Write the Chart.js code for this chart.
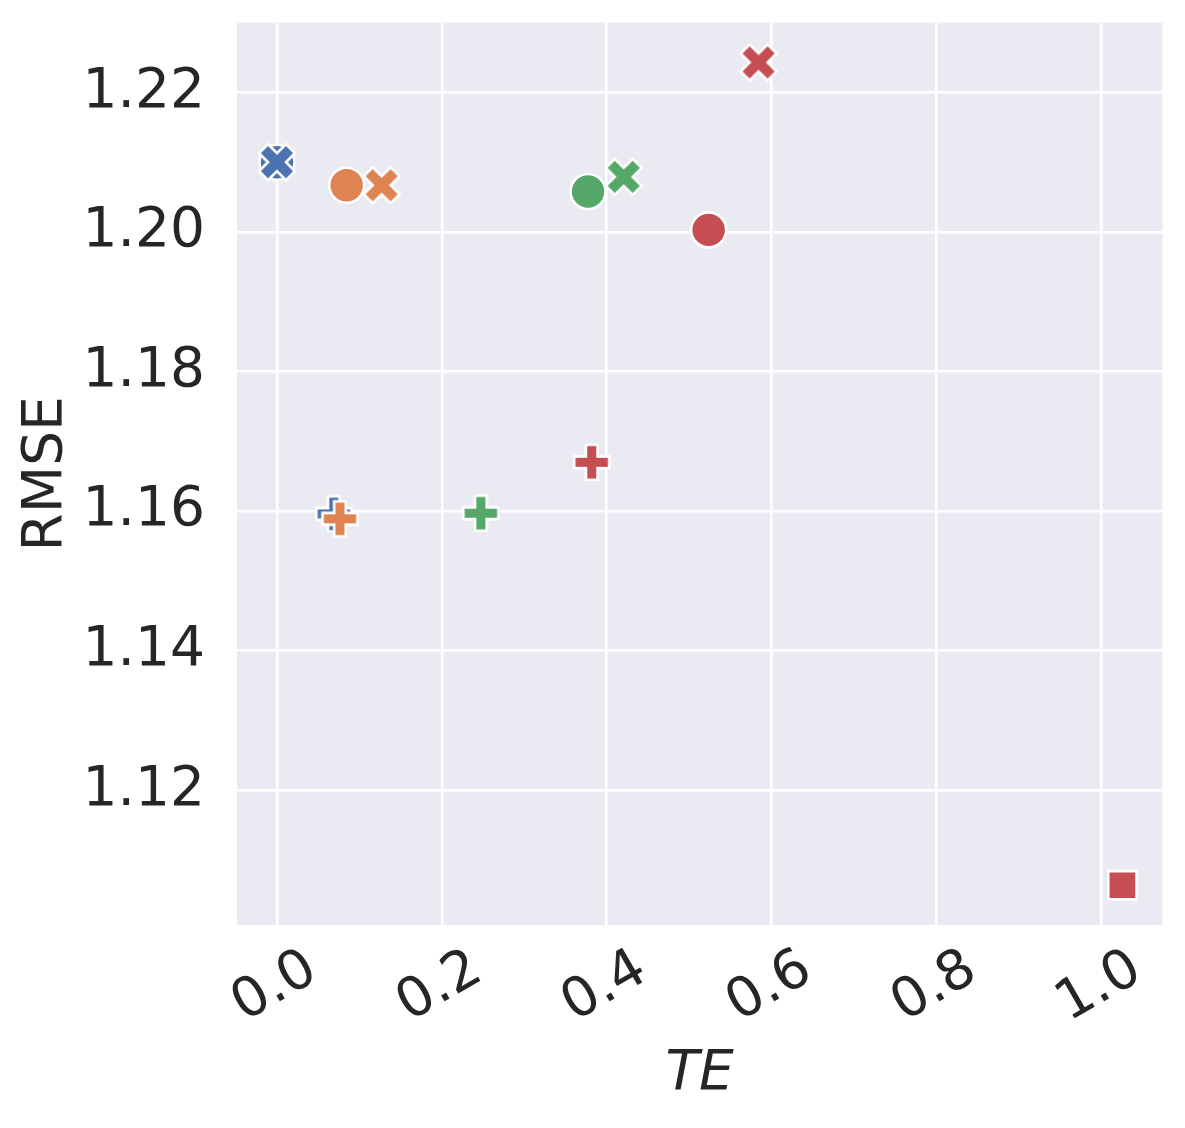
<!DOCTYPE html>
<html>
<head>
<meta charset="utf-8">
<script src="https://cdn.jsdelivr.net/npm/chart.js@4"></script>
<style>
  html, body { margin: 0; padding: 0; background: #ffffff; }
  #wrap { width: 1185px; height: 1128px; }
</style>
</head>
<body>
<div id="wrap"><canvas id="scatter-chart" width="1185" height="1128"></canvas></div>
<script>
// values
const teBlue = [0.000, 0.000, 0.069];
const rmseBlue = [1.2100, 1.2100, 1.1596];
const markBlue = ['circle', 'x', 'plus'];

const teOrange = [0.0845, 0.127, 0.0764];
const rmseOrange = [1.2067, 1.2067, 1.1589];
const markOrange = ['circle', 'x', 'plus'];

const teGreen = [0.3773, 0.4206, 0.2473];
const rmseGreen = [1.2058, 1.2079, 1.1597];
const markGreen = ['circle', 'x', 'plus'];

const teRed = [0.5236, 0.5842, 0.3818, 1.0255];
const rmseRed = [1.2003, 1.2243, 1.1670, 1.1064];
const markRed = ['circle', 'x', 'plus', 'square'];

const xTicks = [0.0, 0.2, 0.4, 0.6, 0.8, 1.0];
const yTicks = [1.12, 1.14, 1.16, 1.18, 1.20, 1.22];

const colors = ['#4C72B0', '#DD8452', '#55A868', '#C44E52'];
const FONT = "'DejaVu Sans', sans-serif";

// filled marker shapes like matplotlib's 'X' and 'P'
const xPath = [[-1, -2], [0, -1], [1, -2], [2, -1], [1, 0], [2, 1], [1, 2], [0, 1], [-1, 2], [-2, 1], [-1, 0], [-2, -1]].map(p => [p[0] / 4, p[1] / 4]);
const plusPath = [[-1, -3], [1, -3], [1, -1], [3, -1], [3, 1], [1, 1], [1, 3], [-1, 3], [-1, 1], [-3, 1], [-3, -1], [-1, -1]].map(p => [p[0] / 6, p[1] / 6]);

function makeMarker(path, color, size) {
    const pad = 4;
    const c = document.createElement('canvas');
    c.width = size + pad * 2;
    c.height = size + pad * 2;
    const ctx = c.getContext('2d');
    ctx.translate(c.width / 2, c.height / 2);
    ctx.beginPath();
    path.forEach((p, i) => {
        const x = p[0] * size, y = p[1] * size;
        if (i === 0) ctx.moveTo(x, y); else ctx.lineTo(x, y);
    });
    ctx.closePath();
    ctx.fillStyle = color;
    ctx.fill();
    ctx.lineJoin = 'miter';
    ctx.lineWidth = 2.6;
    ctx.strokeStyle = '#ffffff';
    ctx.stroke();
    return c;
}

function styleFor(mark, color) {
    if (mark === 'x') return makeMarker(xPath, color, 36);
    if (mark === 'plus') return makeMarker(plusPath, color, 35);
    if (mark === 'square') return 'rect';
    return 'circle';
}

function radiusFor(mark) {
    if (mark === 'square') return 20;
    return 17.5;
}

function buildDataset(te, rmse, marks, color, idx) {
    return {
        data: te.map((v, i) => ({ x: v, y: rmse[i] })),
        pointStyle: marks.map(m => styleFor(m, color)),
        pointRadius: marks.map(radiusFor),
        pointHoverRadius: marks.map(radiusFor),
        backgroundColor: color,
        borderColor: '#ffffff',
        borderWidth: 2.6,
        order: -idx
    };
}

const plotBackground = {
    id: 'plotBackground',
    beforeDraw(chart) {
        const a = chart.chartArea;
        const ctx = chart.ctx;
        ctx.save();
        ctx.fillStyle = '#EAEAF2';
        ctx.fillRect(a.left, a.top, a.right - a.left, a.bottom - a.top);
        ctx.restore();
    }
};

const ctx = document.getElementById('scatter-chart').getContext('2d');
new Chart(ctx, {
    type: 'scatter',
    data: {
        datasets: [
            buildDataset(teBlue, rmseBlue, markBlue, colors[0], 0),
            buildDataset(teOrange, rmseOrange, markOrange, colors[1], 1),
            buildDataset(teGreen, rmseGreen, markGreen, colors[2], 2),
            buildDataset(teRed, rmseRed, markRed, colors[3], 3)
        ]
    },
    options: {
        responsive: false,
        animation: false,
        layout: { padding: { top: 20, right: 22, left: 0, bottom: 0 } },
        plugins: {
            legend: { display: false },
            tooltip: { enabled: false }
        },
        scales: {
            x: {
                type: 'linear',
                min: -0.0485,
                max: 1.074,
                afterBuildTicks: scale => { scale.ticks = xTicks.map(v => ({ value: v })); },
                afterFit: scale => {
                    scale.height = 203;
                    scale.paddingLeft = 0;
                    scale.paddingRight = 0;
                },
                border: { display: false },
                grid: { color: '#ffffff', lineWidth: 2.5, drawTicks: false },
                ticks: {
                    autoSkip: false,
                    minRotation: 30,
                    maxRotation: 30,
                    padding: 12,
                    labelOffset: 36,
                    color: '#262626',
                    font: { family: FONT, size: 55 },
                    callback: v => v.toFixed(1)
                },
                title: {
                    display: true,
                    text: 'TE',
                    color: '#262626',
                    font: { family: FONT, size: 55, style: 'italic' },
                    padding: { top: 0, bottom: 20 }
                }
            },
            y: {
                type: 'linear',
                min: 1.1007,
                max: 1.23,
                afterBuildTicks: scale => { scale.ticks = yTicks.map(v => ({ value: v })); },
                afterFit: scale => {
                    scale.width = 237;
                    scale.paddingTop = 0;
                    scale.paddingBottom = 0;
                },
                border: { display: false },
                grid: { color: '#ffffff', lineWidth: 2.5, drawTicks: false },
                ticks: {
                    padding: 32,
                    color: '#262626',
                    font: { family: FONT, size: 55 },
                    callback: v => v.toFixed(2)
                },
                title: {
                    display: true,
                    text: 'RMSE',
                    color: '#262626',
                    font: { family: FONT, size: 55 },
                    padding: { top: 14, bottom: 0 }
                }
            }
        }
    },
    plugins: [plotBackground]
});
</script>
</body>
</html>
